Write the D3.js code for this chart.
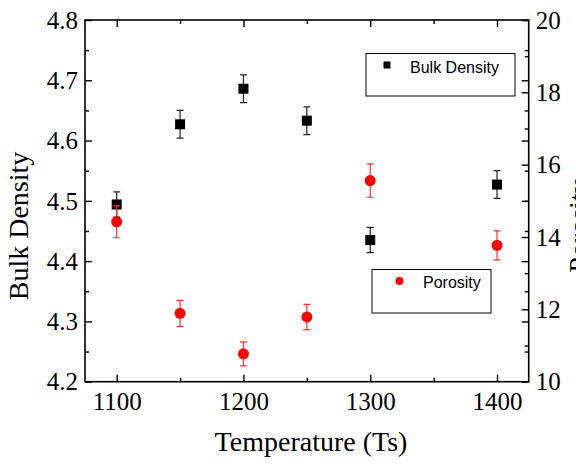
<!DOCTYPE html>
<html>
<head>
<meta charset="utf-8">
<script src="https://cdn.jsdelivr.net/npm/d3@7"></script>
<style>
  body { margin: 0; background: #fff; }
  svg { display: block; }
  .axis path, .axis line { stroke: #000; }
</style>
</head>
<body>
<div id="chart"></div>
<script>
// data
const temps = [1100, 1150, 1200, 1250, 1300, 1400];
const bulkDensity = [4.494, 4.627, 4.686, 4.633, 4.435, 4.527];
const bulkErr = [0.021, 0.023, 0.023, 0.023, 0.021, 0.023];
const porosity = [14.42, 11.89, 10.77, 11.79, 15.56, 13.77];
const porosityErr = [0.44, 0.36, 0.33, 0.35, 0.46, 0.40];

const xTicks = [1100, 1200, 1300, 1400];
const xMinor = [1150, 1250, 1350];
const yLeftTicks = [4.2, 4.3, 4.4, 4.5, 4.6, 4.7, 4.8];
const yLeftMinor = [4.25, 4.35, 4.45, 4.55, 4.65, 4.75];
const yRightTicks = [10, 12, 14, 16, 18, 20];
const yRightMinor = [11, 13, 15, 17, 19];

const W = 576, H = 464;
const L = 85, R = 528.7, T = 20, B = 381.7;
const serif = "'Liberation Serif', 'Times New Roman', serif";
const sans = "'Liberation Sans', Arial, sans-serif";

const svg = d3.select("#chart").append("svg")
    .attr("width", W)
    .attr("height", H);

const x = d3.scaleLinear().domain([1075, 1425]).range([L, R]);
const yL = d3.scaleLinear().domain([4.2, 4.8]).range([B, T]);
const yR = d3.scaleLinear().domain([10, 20]).range([B, T]);

// frame
svg.append("rect")
    .attr("x", L).attr("y", T)
    .attr("width", R - L).attr("height", B - T)
    .attr("fill", "none")
    .attr("stroke", "#000")
    .attr("stroke-width", 1.6);

// helper to draw inward ticks
function ticks(axis, values, size, tx, ty, label) {
    const g = svg.append("g")
        .attr("class", "axis")
        .attr("transform", `translate(${tx},${ty})`)
        .call(axis.tickValues(values).tickSize(-size).tickFormat(label ? d3.format(label) : ""));
    g.select(".domain").remove();
    g.selectAll("line").attr("stroke-width", 1.4);
    return g;
}

const xb = ticks(d3.axisBottom(x), xTicks, 7, 0, B, "d");
ticks(d3.axisBottom(x), xMinor, 4, 0, B);
ticks(d3.axisTop(x), xTicks, 7, 0, T);
ticks(d3.axisTop(x), xMinor, 4, 0, T);

const yl = ticks(d3.axisLeft(yL), yLeftTicks, 7, L, 0, ".1f");
ticks(d3.axisLeft(yL), yLeftMinor, 4, L, 0);
ticks(d3.axisRight(yL), yLeftTicks, 7, R, 0);
ticks(d3.axisRight(yL), yLeftMinor, 4, R, 0);

const yr = ticks(d3.axisRight(yR), yRightTicks, 7, R, 0, "d");
ticks(d3.axisRight(yR), yRightMinor, 4, R, 0);

xb.selectAll("text")
    .attr("y", 28).attr("dy", null)
    .attr("font-family", serif).attr("font-size", 25).attr("fill", "#000");
yl.selectAll("text")
    .attr("x", -7).attr("dy", "0.33em")
    .attr("font-family", serif).attr("font-size", 25).attr("fill", "#000");
yr.selectAll("text")
    .attr("x", 7).attr("dy", "0.33em")
    .attr("font-family", serif).attr("font-size", 25).attr("fill", "#000");

// axis titles
svg.append("text")
    .attr("x", 311).attr("y", 451)
    .attr("text-anchor", "middle")
    .attr("font-family", serif).attr("font-size", 28)
    .text("Temperature (Ts)");

svg.append("text")
    .attr("transform", "translate(28,226) rotate(-90)")
    .attr("text-anchor", "middle")
    .attr("font-family", serif).attr("font-size", 28)
    .text("Bulk Density");

svg.append("text")
    .attr("transform", "translate(588,226) rotate(-90)")
    .attr("text-anchor", "middle")
    .attr("font-family", serif).attr("font-size", 28)
    .text("Porosity");

// bulk density series
const bulk = temps.map((t, i) => ({ t, v: bulkDensity[i], e: bulkErr[i] }));
const por = temps.map((t, i) => ({ t, v: porosity[i], e: porosityErr[i] }));

function errorBars(data, y, color) {
    const g = svg.append("g")
        .attr("stroke", color)
        .attr("stroke-width", 1.2)
        .attr("fill", "none");
    g.selectAll(".eb").data(data).join("path")
        .attr("d", d => {
            const cx = x(d.t), y1 = y(d.v + d.e), y0 = y(d.v - d.e);
            return `M${cx - 3.5},${y1}H${cx + 3.5}M${cx},${y1}V${y0}M${cx - 3.5},${y0}H${cx + 3.5}`;
        });
}

errorBars(bulk, yL, "#222");
svg.append("g").selectAll("rect").data(bulk).join("rect")
    .attr("x", d => x(d.t) - 5)
    .attr("y", d => yL(d.v) - 5)
    .attr("width", 10).attr("height", 10)
    .attr("fill", "#000");

errorBars(por, yR, "#ff3030");
svg.append("g").selectAll("circle").data(por).join("circle")
    .attr("cx", d => x(d.t))
    .attr("cy", d => yR(d.v))
    .attr("r", 5.5)
    .attr("fill", "#ff0000");

// legends
const lg1 = svg.append("g");
lg1.append("rect")
    .attr("x", 366).attr("y", 53.5).attr("width", 149).attr("height", 42.5)
    .attr("fill", "#fff").attr("stroke", "#000").attr("stroke-width", 1);
lg1.append("rect")
    .attr("x", 383.5).attr("y", 61.5).attr("width", 7).attr("height", 7)
    .attr("fill", "#000");
lg1.append("text")
    .attr("x", 410).attr("y", 72.5)
    .attr("font-family", sans).attr("font-size", 16)
    .text("Bulk Density");

const lg2 = svg.append("g");
lg2.append("rect")
    .attr("x", 372).attr("y", 269.5).attr("width", 119).attr("height", 43.5)
    .attr("fill", "#fff").attr("stroke", "#000").attr("stroke-width", 1);
lg2.append("circle")
    .attr("cx", 399.5).attr("cy", 281).attr("r", 4)
    .attr("fill", "#ff0000");
lg2.append("text")
    .attr("x", 423).attr("y", 287.5)
    .attr("font-family", sans).attr("font-size", 16)
    .text("Porosity");
</script>
</body>
</html>
